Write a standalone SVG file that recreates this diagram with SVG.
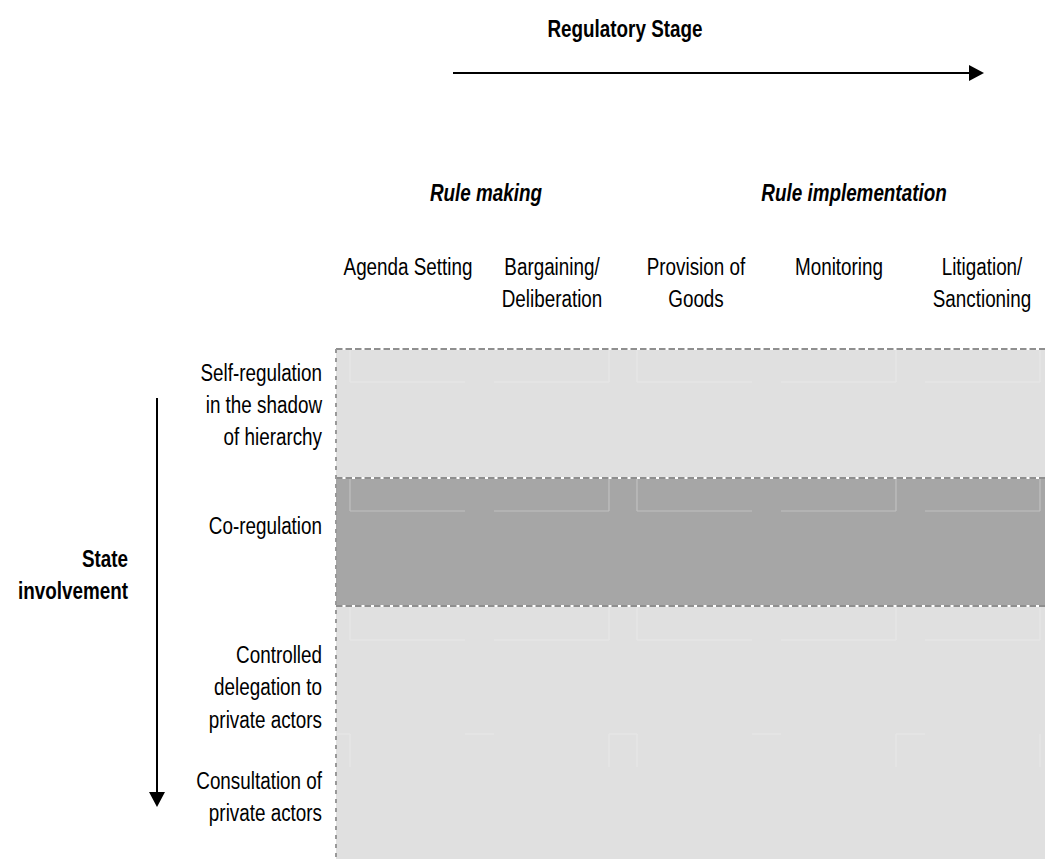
<svg xmlns="http://www.w3.org/2000/svg" width="1045" height="859" viewBox="0 0 1045 859">
<style>
.t{font-family:"Liberation Sans",Arial,sans-serif;font-size:23px;fill:#000}
.b{font-weight:bold}
.bi{font-weight:bold;font-style:italic}
.m{text-anchor:middle}
.e{text-anchor:end}
.fl{stroke:#e7e7e7;stroke-width:1.2;fill:none}
.fd{stroke:#c0c0c0;stroke-width:1.2;fill:none}
.dh{stroke:#8f8f8f;stroke-width:2.2;stroke-dasharray:6.5 3;fill:none}
.wh{stroke:#ffffff;stroke-width:2.2;fill:none}
.dv{stroke:#999999;stroke-width:2;stroke-dasharray:4 5;fill:none}
.ar{stroke:#000;stroke-width:2;fill:none}
</style>
<defs>
<marker id="ah" markerUnits="userSpaceOnUse" markerWidth="16" markerHeight="18" refX="0" refY="8" orient="auto">
<path d="M0,0 L15,8 L0,16 Z" fill="#000"/>
</marker>
</defs>
<rect width="1045" height="859" fill="#fff"/>
<g id="grid">
<rect x="336" y="349" width="720" height="520" fill="#e0e0e0"/>
<rect x="336" y="478" width="720" height="128" fill="#a6a6a6"/>
<g id="faint-light">
<path class="fl" d="M350,349V382M609,349V382M637,349V382M896,349V382M1040,349V382M350,382H465M494,382H609M637,382H752M781,382H896M925,382H1040"/>
<path class="fl" d="M350,607V640M609,607V640M637,607V640M896,607V640M1040,607V640M350,640H465M494,640H609M637,640H752M781,640H896M925,640H1040"/>
<path class="fl" d="M350,734V767M609,734V767M637,734V767M896,734V767M1040,734V767M337,734H350M465,734H494M609,734H637M752,734H781M896,734H925"/>
</g>
<path class="fd" d="M350,479V511M609,479V511M637,479V511M896,479V511M1040,479V511M350,511H465M494,511H609M637,511H752M781,511H896M925,511H1040"/>
<path class="wh" d="M336,349H1045M336,478H1045M336,606H1045"/>
<path class="dh" d="M336,349H1045M336,478H1045M336,606H1045"/>
<path class="dv" d="M336,349V859"/>
</g>
<g id="connectors">
<line class="ar" x1="453" y1="73" x2="969" y2="73" marker-end="url(#ah)"/>
<line class="ar" x1="157" y1="398" x2="157" y2="792" marker-end="url(#ah)"/>
</g>
<g id="regulatory-stage"><text class="t b m" transform="translate(625,37) scale(0.82,1)">Regulatory Stage</text></g>
<g id="rule-making"><text class="t bi m" transform="translate(486,201) scale(0.82,1)">Rule making</text></g>
<g id="rule-implementation"><text class="t bi m" transform="translate(854,201) scale(0.82,1)">Rule implementation</text></g>
<g id="col-agenda"><text class="t m" transform="translate(408,275) scale(0.82,1)">Agenda Setting</text></g>
<g id="col-bargaining"><text class="t m" transform="translate(552,275) scale(0.82,1)">Bargaining/</text><text class="t m" transform="translate(552,307) scale(0.82,1)">Deliberation</text></g>
<g id="col-provision"><text class="t m" transform="translate(696,275) scale(0.82,1)">Provision of</text><text class="t m" transform="translate(696,307) scale(0.82,1)">Goods</text></g>
<g id="col-monitoring"><text class="t m" transform="translate(839,275) scale(0.82,1)">Monitoring</text></g>
<g id="col-litigation"><text class="t m" transform="translate(982,275) scale(0.82,1)">Litigation/</text><text class="t m" transform="translate(982,307) scale(0.82,1)">Sanctioning</text></g>
<g id="row-self"><text class="t e" transform="translate(322,381) scale(0.82,1)">Self-regulation</text><text class="t e" transform="translate(322,413) scale(0.82,1)">in the shadow</text><text class="t e" transform="translate(322,445) scale(0.82,1)">of hierarchy</text></g>
<g id="row-co"><text class="t e" transform="translate(322,534) scale(0.82,1)">Co-regulation</text></g>
<g id="row-controlled"><text class="t e" transform="translate(322,663) scale(0.82,1)">Controlled</text><text class="t e" transform="translate(322,695) scale(0.82,1)">delegation to</text><text class="t e" transform="translate(322,728) scale(0.82,1)">private actors</text></g>
<g id="row-consultation"><text class="t e" transform="translate(322,789) scale(0.82,1)">Consultation of</text><text class="t e" transform="translate(322,821) scale(0.82,1)">private actors</text></g>
<g id="state-involvement"><text class="t b e" transform="translate(128,567) scale(0.82,1)">State</text><text class="t b e" transform="translate(128,599) scale(0.82,1)">involvement</text></g>
</svg>
